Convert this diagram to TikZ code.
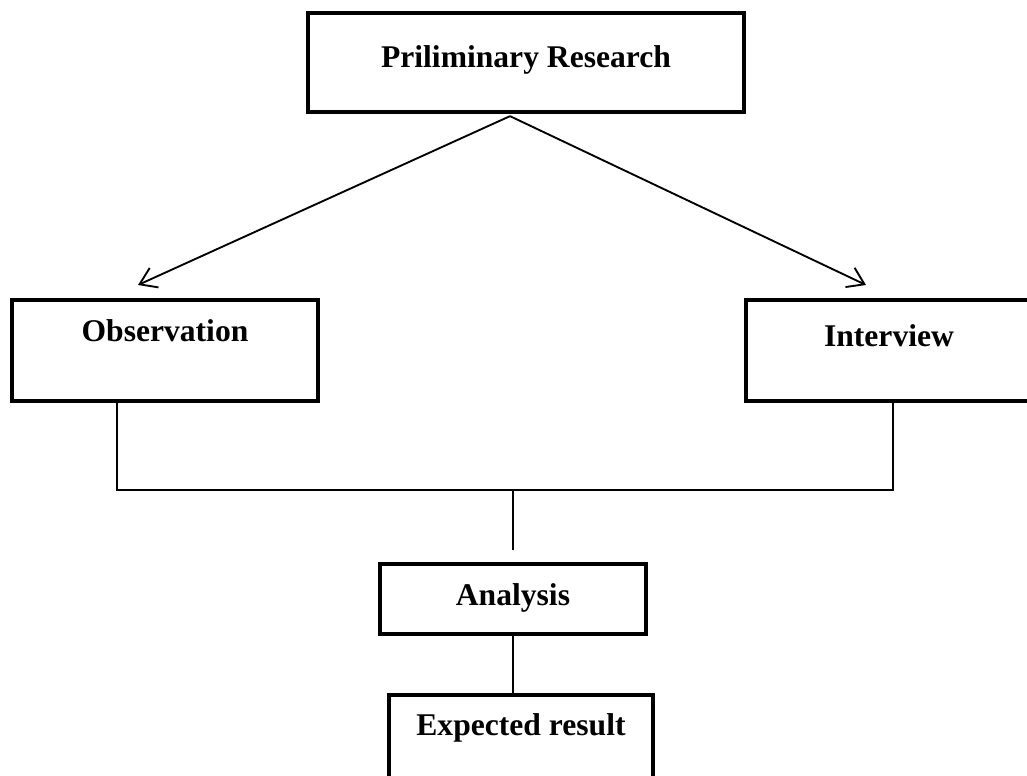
\documentclass[tikz,border=0pt]{standalone}
\usepackage{fontspec}
\setmainfont{Liberation Serif}
\usepackage{tikz}
\usetikzlibrary{positioning, arrows.meta, calc}

\begin{document}
\begin{tikzpicture}
        [
            x=0.75pt, y=-0.75pt,
            stage/.style={rectangle, draw, line width=3.2pt, inner xsep=0pt,
                          inner ysep=0pt, minimum width=#1,
                          font=\bfseries\fontsize{23.7}{28}\selectfont},
            link/.style={line width=1.4pt}
        ]
        \path [use as bounding box, clip] (0,0) rectangle (1027,775);
        \node (pre) [stage=327pt, text height=40.5pt, text depth=33.75pt] at (526,62.5) {Priliminary Research};
        \node (obs) [stage=229.5pt, text height=30.75pt, text depth=45pt] at (165,350.5) {Observation};
        \node (int) [stage=214.5pt, text height=34.5pt, text depth=41.25pt] at (889,350.5) {Interview};
        \node (ana) [stage=199.5pt, text height=30.75pt, text depth=21.75pt] at (513,599) {Analysis};
        \node (res) [stage=198pt, text height=30pt, text depth=37.5pt] at (521,740) {Expected result};
        \coordinate (obsin) at (138,285);
        \coordinate (intin) at (866,285);
        \coordinate (jl) at (117,490);
        \coordinate (jr) at (893,490);
        \foreach \j in {obsin,intin}
            \draw [link, -{Straight Barb[length=12pt, width=16pt]}] ($(pre.south)+(-16,2)$) -- (\j);
        \draw [link] (obs.south -| jl) -- (jl) -- (jr) -- (int.south -| jr);
        \draw [link, shorten >=9pt] (jl -| ana.north) -- (ana.north);
        \draw [link] (ana.south) -- (ana.south |- res.north);
    \end{tikzpicture}
\end{document}
